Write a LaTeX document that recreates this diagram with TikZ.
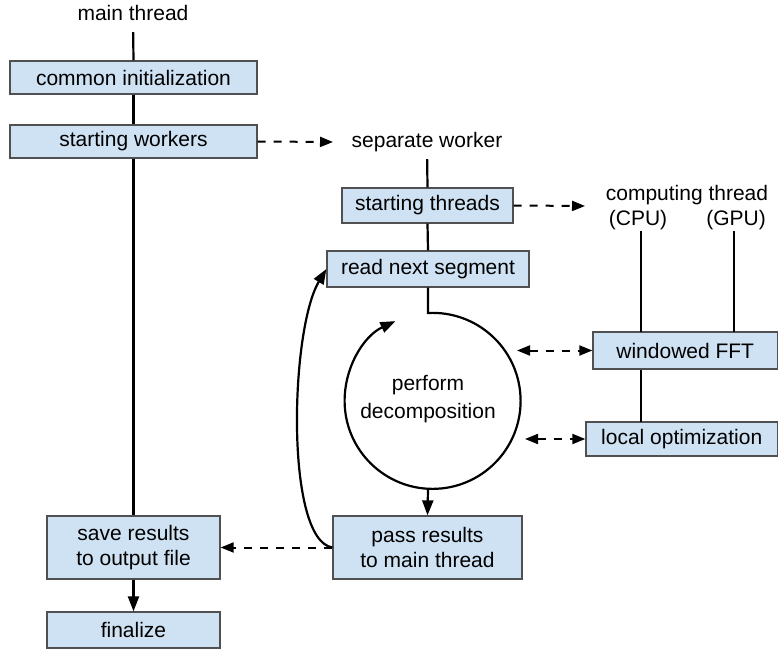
\documentclass[tikz,border=0pt]{standalone}
\usepackage{fontspec}
\setmainfont{Liberation Sans}
\usetikzlibrary{arrows.meta}
\definecolor{boxfill}{HTML}{CFE2F3}
\definecolor{boxline}{HTML}{505050}

\begin{document}
\begin{tikzpicture}[x=1pt,y=-1pt,
  stage/.style={draw=boxline, fill=boxfill, line width=1.3pt, inner sep=0pt,
    align=center, font=\fontsize{21}{25}\selectfont},
  heading/.style={inner sep=0pt, text depth=0pt, anchor=base,
    font=\fontsize{21}{25}\selectfont},
  flow/.style={line width=2.2pt},
  tip/.style={-{Triangle[length=15pt,width=11pt]}},
  dtip/.style={-{Triangle[length=13pt,width=10pt]}},
  twotip/.style={{Triangle[length=13pt,width=10pt]}-{Triangle[length=13pt,width=10pt]}},
  dashlink/.style={line width=2pt, dash pattern=on 8pt off 8pt},
]
\useasboundingbox (0,0) rectangle (779,652);

% main thread column
\node[heading] (mainhd) at (133,21) {main thread};
\node[stage, minimum width=247pt, minimum height=33pt] (init) at (133.5,77.5) {common initialization};
\node[stage, minimum width=247pt, minimum height=33pt] (work) at (133.5,141.5) {starting workers};
\node[stage, minimum width=173pt, minimum height=63pt] (save) at (133.5,547.5) {save results\\to output file};
\node[stage, minimum width=173pt, minimum height=36pt] (fin) at (133.5,630) {finalize};

% worker column
\node[heading] (sw) at (427,148) {separate worker};
\node[stage, minimum width=171pt, minimum height=35pt] (thr) at (427.5,205.5) {starting threads};
\node[stage, minimum width=202pt, minimum height=36pt] (rd) at (428,269) {read next segment};
\node[align=center, inner sep=0pt, font=\fontsize{21}{28}\selectfont] (perf) at (428,399) {perform\\decomposition};
\node[stage, minimum width=189pt, minimum height=63pt] (pass) at (427.5,547.5) {pass results\\to main thread};

% computing threads
\node[heading] (comp) at (687,201) {computing thread};
\node[heading] (cpu) at (638,226) {(CPU)};
\node[heading] (gpu) at (736,226) {(GPU)};
\node[stage, minimum width=184.5pt, minimum height=37pt] (fft) at (685.25,350.5) {windowed FFT};
\node[stage, minimum width=191.5pt, minimum height=34pt] (opt) at (681.75,439) {local optimization};

% free ends and fixed points
\coordinate (swend) at (333,142);
\coordinate (compend) at (585,206);
\coordinate (fftend) at (517,350.5);
\coordinate (optend) at (525,439);
\coordinate (arctop) at (428,313);
\coordinate (cbot) at (428,489);
\coordinate (cpubot) at (641,332);
\coordinate (gpubot) at (734,332);
\coordinate (optup) at (641,422);

% solid flow lines
\draw[flow, shorten <=11pt] (mainhd.south) -- (init.north);
\draw[flow] (init.south) -- (work.north);
\draw[flow] (work.south) -- (save.north);
\draw[flow, tip] (save.south) -- (fin.north);

\draw[flow, shorten <=11pt] (sw.south) -- (thr.north);
\draw[flow] (thr.south) -- (rd.north);
\draw[flow, tip] (rd.south) -- (arctop) arc[start angle=-93, end angle=245, radius=88];
\draw[flow, tip] (cbot) -- (pass.north);
\draw[flow, tip] (pass.west) .. controls (285,540) and (290,330) .. (rd.west);

\draw[flow, shorten <=5pt] (cpu.south -| cpubot) -- (cpubot);
\draw[flow, shorten <=5pt] (gpu.south -| gpubot) -- (gpubot);
\draw[flow] (cpubot |- fft.south) -- (optup);

% dashed hand-offs
\draw[dashlink, dtip] (work.east) -- (swend);
\draw[dashlink, dtip] (thr.east) -- (compend);
\draw[dashlink, twotip] (fftend) -- (fft.west);
\draw[dashlink, twotip] (optend) -- (opt.west);
\draw[dashlink, dtip] (pass.west) -- (save.east);
\end{tikzpicture}
\end{document}
